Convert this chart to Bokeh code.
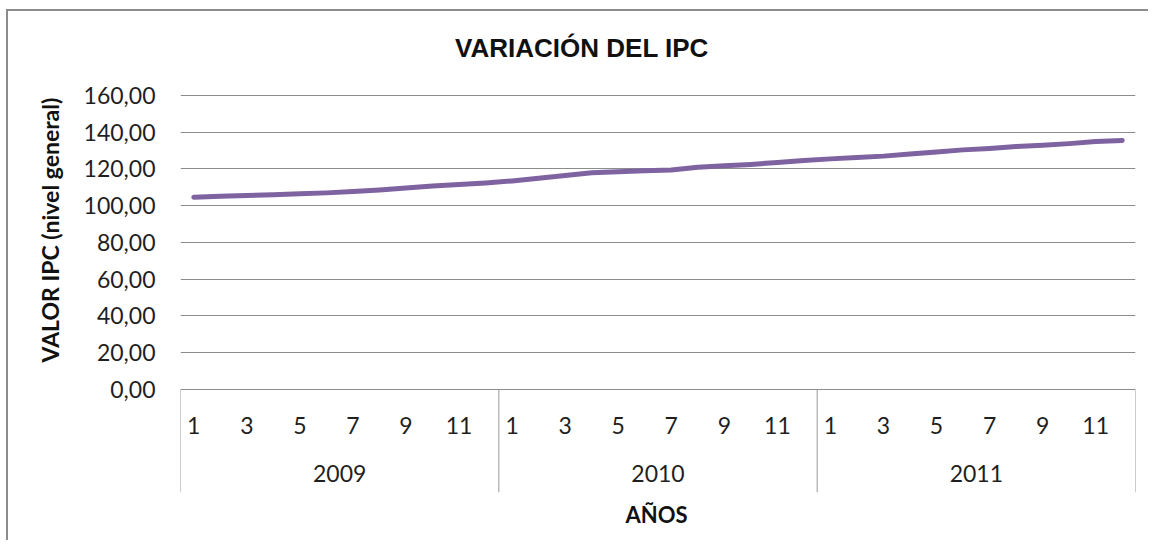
from bokeh.plotting import figure
from bokeh.models import Range1d, FixedTicker, Title
from bokeh.core.properties import value
from bokeh.embed import file_html
from bokeh.resources import INLINE

# ---- data ----
years = ["2009", "2010", "2011"]
months = list(range(1, 13))
ipc_2009 = [104.6, 105.1, 105.6, 106.0, 106.5, 107.0, 107.8, 108.6, 109.7, 110.8, 111.5, 112.4]
ipc_2010 = [113.5, 114.9, 116.5, 118.0, 118.5, 119.0, 119.5, 121.0, 121.8, 122.5, 123.5, 124.6]
ipc_2011 = [125.5, 126.2, 127.0, 128.2, 129.3, 130.4, 131.2, 132.2, 132.9, 133.8, 134.9, 135.5]
y_ticks = [0, 20, 40, 60, 80, 100, 120, 140, 160]
shown_months = [1, 3, 5, 7, 9, 11]

title_text = "VARIACIÓN  DEL IPC"
y_title = "VALOR IPC (nivel general)"
x_title = "AÑOS"

# ---- derived positions (category slots) ----
values = ipc_2009 + ipc_2010 + ipc_2011
n = len(values)
xs = [i + 0.5 for i in range(n)]

Y_BOTTOM = -56.05
Y_TOP = 205.7
p = figure(width=1142, height=531, output_backend="svg", toolbar_location=None,
           x_range=Range1d(0, n), y_range=Range1d(Y_BOTTOM, Y_TOP),
           x_axis_location=None, min_border_left=172, min_border_right=15,
           min_border_top=0, min_border_bottom=50)
p.outline_line_color = None
p.background_fill_color = "white"
p.border_fill_color = "white"
p.styles = {"margin": "11px 0 0 8px", "box-shadow": "-2px -2px 0 0 #8c8c8c"}

TXT = "#1f1f1f"
FONT = "Lato"

p.xgrid.visible = False
p.ygrid.ticker = FixedTicker(ticks=y_ticks)
p.ygrid.grid_line_color = "#8c8c8c"
p.ygrid.grid_line_width = 1

ax = p.yaxis[0]
ax.ticker = FixedTicker(ticks=y_ticks)
ax.major_label_overrides = {t: f"{t},00" for t in y_ticks}
ax.axis_line_color = None
ax.major_tick_line_color = None
ax.minor_tick_line_color = None
ax.major_tick_in = 0
ax.major_tick_out = 0
ax.major_label_standoff = 25
ax.major_label_text_font = FONT
ax.major_label_text_font_size = "23px"
ax.major_label_text_color = TXT

# category box separators
seps = [i * 12 for i in range(len(years) + 1)]
p.segment(x0=seps, y0=[0] * len(seps), x1=seps, y1=[Y_BOTTOM] * len(seps),
          line_color="#9a9a9a", line_width=1)

# month labels
mx, mt = [], []
for yi, _ in enumerate(years):
    for m in shown_months:
        mx.append(yi * 12 + m - 0.5)
        mt.append(str(m))
p.text(x=mx, y=[-19.6] * len(mx), text=mt, text_align="center", text_baseline="middle",
       text_font=value(FONT), text_font_size="23px", text_color=TXT)

# year labels
yx = [yi * 12 + 6 for yi in range(len(years))]
p.text(x=yx, y=[-45.7] * len(yx), text=years, text_align="center", text_baseline="middle",
       text_font=value(FONT), text_font_size="23px", text_color=TXT)

# the series
p.line(xs, values, line_color="#7F63A1", line_width=5, line_cap="round", line_join="round")

# chart title (inside the frame's top band)
p.text(x=[15.27], y=[186.1], text=[title_text], text_align="center", text_baseline="middle",
       text_font=value("Liberation Sans"), text_font_style="bold", text_font_size="26px",
       text_color="#111111")

# axis titles
p.add_layout(Title(text=x_title, align="left", offset=445, vertical_align="top",
                   standoff=16, text_font=FONT, text_font_style="bold",
                   text_font_size="22px", text_color="#111111"), "below")
p.add_layout(Title(text=y_title, align="left", offset=130, vertical_align="bottom",
                   standoff=34, text_font=FONT, text_font_style="bold",
                   text_font_size="23px", text_color="#111111"), "left")

open("out.html", "w").write(file_html(p, INLINE))
